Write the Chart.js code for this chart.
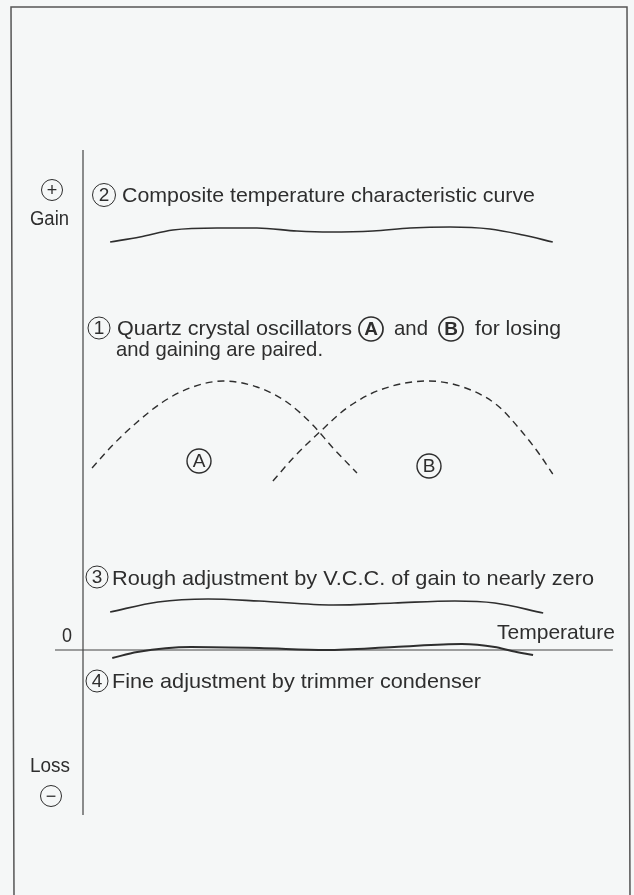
<!DOCTYPE html>
<html>
<head>
<meta charset="utf-8">
<script src="https://cdn.jsdelivr.net/npm/chart.js@4/dist/chart.umd.min.js"></script>
<style>
  html, body { margin: 0; padding: 0; background: #f5f7f7; }
  canvas { display: block; }
</style>
</head>
<body>
<canvas id="chart" width="634" height="895"></canvas>
<script>
// Curve data (x = temperature, y = gain, arbitrary units)
const compX = [5.1, 10.7, 16.9, 25.2, 32.7, 40.2, 46.4, 54.5, 61.5, 69.0, 76.5, 82.7, 88.3];
const compY = [81.6, 82.6, 84.0, 84.4, 84.4, 83.8, 83.6, 83.8, 84.4, 84.6, 84.2, 83.0, 81.6];

const aX = [1.7, 5.6, 10.2, 15.0, 20.1, 26.3, 32.7, 38.3, 43.2, 47.0, 51.5];
const aY = [36.4, 41.0, 45.6, 49.6, 52.4, 53.8, 52.6, 49.6, 45.0, 40.4, 35.4];

const bX = [35.7, 39.5, 44.5, 49.6, 55.8, 64.8, 71.4, 77.8, 82.7, 85.9, 88.3];
const bY = [33.8, 38.4, 43.6, 48.4, 52.0, 53.8, 52.6, 49.0, 43.4, 39.0, 35.2];

const roughX = [5.1, 14.1, 23.5, 33.1, 47.0, 58.5, 69.9, 77.4, 86.5];
const roughY = [7.6, 9.6, 10.2, 9.8, 9.0, 9.4, 9.8, 9.4, 7.4];

const fineX = [5.5, 10.2, 20.3, 33.1, 45.7, 58.5, 71.2, 77.4, 80.6, 84.6];
const fineY = [-1.6, -0.4, 0.6, 0.4, 0, 0.6, 1.2, 0.6, -0.2, -1.0];

const ink = '#2e2e2e';
const FONT = '"Liberation Sans", Arial, sans-serif';

function toPoints(xs, ys) {
    return xs.map((x, i) => ({ x: x, y: ys[i] }));
}

// Draw a text squeezed/stretched to a given width
function fitText(ctx, str, x, y, w, size) {
    ctx.font = size + 'px ' + FONT;
    const m = ctx.measureText(str).width;
    ctx.save();
    ctx.translate(x, y);
    ctx.scale(w / m, 1);
    ctx.textAlign = 'left';
    ctx.textBaseline = 'alphabetic';
    ctx.fillText(str, 0, 0);
    ctx.restore();
}

// Circled character
function circled(ctx, ch, cx, cy, r, size, lw, bold) {
    ctx.save();
    ctx.lineWidth = lw;
    ctx.strokeStyle = ink;
    ctx.beginPath();
    ctx.arc(cx, cy, r, 0, Math.PI * 2);
    ctx.stroke();
    ctx.font = (bold ? 'bold ' : '') + size + 'px ' + FONT;
    ctx.textAlign = 'center';
    ctx.textBaseline = 'middle';
    ctx.fillText(ch, cx, cy + 1);
    ctx.restore();
}

const diagram = {
    id: 'diagram',
    beforeDraw(chart) {
        const ctx = chart.ctx;
        ctx.save();
        ctx.fillStyle = '#f5f7f7';
        ctx.fillRect(0, 0, chart.width, chart.height);
        // scanned frame, slightly tilted
        ctx.strokeStyle = '#555';
        ctx.lineWidth = 1.5;
        ctx.beginPath();
        ctx.moveTo(14, 896);
        ctx.lineTo(11, 7);
        ctx.lineTo(627, 7);
        ctx.lineTo(630, 896);
        ctx.stroke();
        ctx.restore();
    },
    beforeDatasetsDraw(chart) {
        const ctx = chart.ctx;
        const xs = chart.scales.x, ys = chart.scales.y;
        const x0 = xs.getPixelForValue(0);
        const y0 = ys.getPixelForValue(0);
        ctx.save();
        ctx.strokeStyle = '#444';
        ctx.lineWidth = 1.2;
        ctx.beginPath();
        ctx.moveTo(x0, chart.chartArea.top);
        ctx.lineTo(x0, chart.chartArea.bottom);
        ctx.moveTo(55, y0);
        ctx.lineTo(xs.getPixelForValue(99.6), y0);
        ctx.stroke();
        ctx.restore();
    },
    afterDraw(chart) {
        const ctx = chart.ctx;
        ctx.save();
        ctx.fillStyle = ink;

        // gain / loss side
        circled(ctx, '+', 52, 190, 10.5, 18, 1, false);
        fitText(ctx, 'Gain', 30, 225, 39, 20);
        fitText(ctx, 'Loss', 30, 772, 40, 20);
        circled(ctx, '\u2212', 51, 796, 10.5, 18, 1, false);

        // (2)
        circled(ctx, '2', 104, 195, 11.5, 19, 1, false);
        fitText(ctx, 'Composite temperature characteristic curve', 122, 202, 413, 21);

        // (1)
        circled(ctx, '1', 99, 328, 11, 19, 1, false);
        fitText(ctx, 'Quartz crystal oscillators', 117, 335, 235, 21);
        circled(ctx, 'A', 371, 329, 12, 19, 1.7, true);
        fitText(ctx, 'and', 394, 335, 34, 21);
        circled(ctx, 'B', 451, 329, 12, 19, 1.7, true);
        fitText(ctx, 'for losing', 475, 335, 86, 21);
        fitText(ctx, 'and gaining are paired.', 116, 356, 207, 21);

        // curve labels
        circled(ctx, 'A', 199, 461, 12, 19, 1.4, false);
        circled(ctx, 'B', 429, 466, 12, 19, 1.4, false);

        // (3)
        circled(ctx, '3', 97, 577, 11, 19, 1, false);
        fitText(ctx, 'Rough adjustment by V.C.C. of gain to nearly zero', 112, 585, 482, 21);

        // zero / temperature
        fitText(ctx, '0', 62, 642, 10, 21);
        fitText(ctx, 'Temperature', 497, 639, 118, 21);

        // (4)
        circled(ctx, '4', 97, 681, 11, 19, 1, false);
        fitText(ctx, 'Fine adjustment by trimmer condenser', 112, 688, 369, 21);

        ctx.restore();
    }
};

const solid = { borderColor: ink, borderWidth: 1.7, pointRadius: 0, cubicInterpolationMode: 'monotone', fill: false };
const dashed = { borderColor: ink, borderWidth: 1.4, pointRadius: 0, cubicInterpolationMode: 'monotone', fill: false, borderDash: [7, 5] };

document.addEventListener('DOMContentLoaded', () => {
    const ctx = document.getElementById('chart').getContext('2d');
    new Chart(ctx, {
        type: 'line',
        data: {
            datasets: [
                Object.assign({ label: 'Composite', data: toPoints(compX, compY) }, solid),
                Object.assign({ label: 'Oscillator A', data: toPoints(aX, aY) }, dashed),
                Object.assign({ label: 'Oscillator B', data: toPoints(bX, bY) }, dashed),
                Object.assign({ label: 'Rough adjustment', data: toPoints(roughX, roughY) }, solid),
                Object.assign({ label: 'Fine adjustment', data: toPoints(fineX, fineY) }, solid, { borderWidth: 2 })
            ]
        },
        options: {
            responsive: false,
            devicePixelRatio: 1,
            animation: false,
            layout: { padding: { left: 83, right: 19, top: 150, bottom: 80 } },
            plugins: { legend: { display: false }, tooltip: { enabled: false } },
            scales: {
                x: { type: 'linear', min: 0, max: 100, display: false },
                y: { type: 'linear', min: -33, max: 100, display: false }
            }
        },
        plugins: [diagram]
    });
});
</script>
</body>
</html>
